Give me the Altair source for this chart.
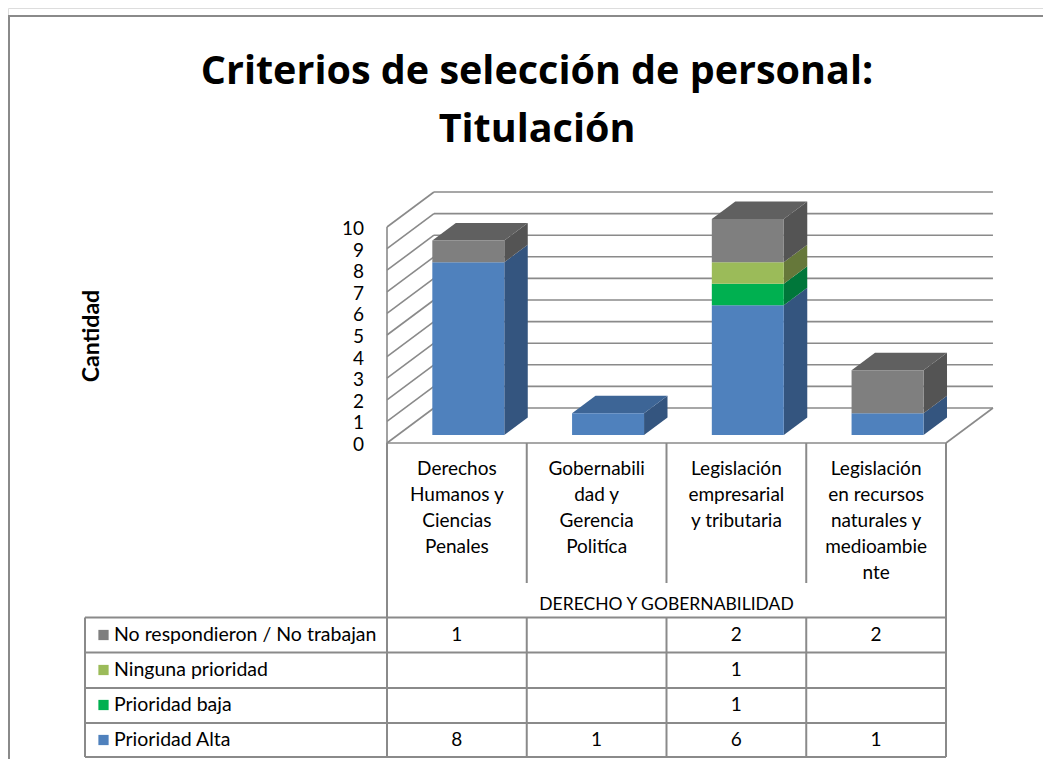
import altair as alt
import pandas as pd

# ---------------- data ----------------
categories = [
    "Derechos Humanos y Ciencias Penales",
    "Gobernabilidad y Gerencia Politíca",
    "Legislación empresarial y tributaria",
    "Legislación en recursos naturales y medioambiente",
]
category_lines = [
    ["Derechos", "Humanos y", "Ciencias", "Penales"],
    ["Gobernabili", "dad y", "Gerencia", "Politíca"],
    ["Legislación", "empresarial", "y tributaria"],
    ["Legislación", "en recursos", "naturales y", "medioambie", "nte"],
]
series = ["Prioridad Alta", "Prioridad baja", "Ninguna prioridad", "No respondieron / No trabajan"]
prioridad_alta = [8, 1, 6, 1]
prioridad_baja = [0, 0, 1, 0]
ninguna_prioridad = [0, 0, 1, 0]
no_respondieron = [1, 0, 2, 2]
values_by_series = [prioridad_alta, prioridad_baja, ninguna_prioridad, no_respondieron]
table_row_order = ["No respondieron / No trabajan", "Ninguna prioridad", "Prioridad baja", "Prioridad Alta"]
group_label = "DERECHO Y GOBERNABILIDAD"
y_ticks = list(range(0, 11))
title_lines = ["Criterios de selección de personal:", "Titulación"]
y_title = "Cantidad"

# ---------------- styles ----------------
FONT = "Lato"
TITLE_FONT = "Open Sans"
front_col = {"Prioridad Alta": "#4F81BD", "Prioridad baja": "#00B050",
             "Ninguna prioridad": "#9BBB59", "No respondieron / No trabajan": "#7F7F7F"}
side_col = {"Prioridad Alta": "#34557F", "Prioridad baja": "#00773A",
            "Ninguna prioridad": "#66783A", "No respondieron / No trabajan": "#545454"}
top_col = {"Prioridad Alta": "#3D6596", "Prioridad baja": "#008A43",
           "Ninguna prioridad": "#7A9345", "No respondieron / No trabajan": "#606060"}
GRID = "#8A8A8A"

# oblique projection constants (fractions of the category / value units)
DXW, DYW = 0.336, 1.62            # full wall depth
DXF, DYF = 0.23 * DXW, 0.23 * DYW  # bar front depth
DXB, DYB = 0.73 * DXW, 0.73 * DYW  # bar back depth
B0, B1 = 0.247, 0.762             # bar extent inside each category band

xs = alt.Scale(domain=[0, 4], range=[379, 938])
ys = alt.Scale(domain=[0, 10], range=[435, 219])

# ---------------- derived tables ----------------
front_rows, side_rows, top_rows = [], [], []
seg = 0
for i in range(len(categories)):
    base = 0
    stack = [(s, vals[i]) for s, vals in zip(series, values_by_series) if vals[i]]
    for k, (s, v) in enumerate(stack):
        top_v = base + v
        front_rows.append(dict(x=i + B0 + DXF, x2=i + B1 + DXF, y=base + DYF, y2=top_v + DYF,
                               fill=front_col[s]))
        side_rows.append(dict(seg=seg, x=i + B1 + DXF, lo=base + DYF, hi=top_v + DYF, fill=side_col[s]))
        side_rows.append(dict(seg=seg, x=i + B1 + DXB, lo=base + DYB, hi=top_v + DYB, fill=side_col[s]))
        if k == len(stack) - 1:
            top_rows.append(dict(seg=seg, y=top_v + DYF, xl=i + B0 + DXF, xr=i + B1 + DXF, fill=top_col[s]))
            top_rows.append(dict(seg=seg, y=top_v + DYB, xl=i + B0 + DXB, xr=i + B1 + DXB, fill=top_col[s]))
        seg += 1
        base = top_v

front_df = pd.DataFrame(front_rows)
side_df = pd.DataFrame(side_rows)
top_df = pd.DataFrame(top_rows)

grid_rows = []
for v in y_ticks:
    grid_rows.append(dict(x=DXW, x2=4 + DXW, y=v + DYW, y2=v + DYW))
    grid_rows.append(dict(x=0, x2=DXW, y=v, y2=v + DYW))
grid_rows.append(dict(x=0, x2=0, y=0, y2=10))
grid_rows.append(dict(x=0, x2=4, y=0, y2=0))
grid_rows.append(dict(x=4, x2=4 + DXW, y=0, y2=DYW))
grid_df = pd.DataFrame(grid_rows)

tick_df = pd.DataFrame({"v": y_ticks, "t": [str(v) for v in y_ticks], "zero": [0] * len(y_ticks)})

# ---------------- 3D bar layers ----------------
grid = alt.Chart(grid_df).mark_rule(color=GRID, strokeWidth=1.6).encode(
    x=alt.X("x:Q", scale=xs, axis=None), x2="x2:Q",
    y=alt.Y("y:Q", scale=ys, axis=None), y2="y2:Q")

front = alt.Chart(front_df).mark_rect().encode(
    x=alt.X("x:Q", scale=xs, axis=None), x2="x2:Q",
    y=alt.Y("y:Q", scale=ys, axis=None), y2="y2:Q",
    fill=alt.Fill("fill:N", scale=None))

side = alt.Chart(side_df).mark_area(orient="vertical", interpolate="linear").encode(
    x=alt.X("x:Q", scale=xs, axis=None),
    y=alt.Y("lo:Q", scale=ys, axis=None), y2="hi:Q",
    detail="seg:N",
    fill=alt.Fill("fill:N", scale=None))

top = alt.Chart(top_df).mark_area(orient="horizontal", interpolate="linear").encode(
    y=alt.Y("y:Q", scale=ys, axis=None),
    x=alt.X("xl:Q", scale=xs, axis=None), x2="xr:Q",
    detail="seg:N",
    fill=alt.Fill("fill:N", scale=None))

ticks = alt.Chart(tick_df).mark_text(font=FONT, fontSize=19, align="right", baseline="middle",
                                     dx=-23, dy=2, color="#000000").encode(
    x=alt.X("zero:Q", scale=xs, axis=None),
    y=alt.Y("v:Q", scale=ys, axis=None), text="t:N")

# ---------------- data table ----------------
ROW_LINES = [609.5, 644.5, 680, 715, 749]   # row boundary pixels
rows_scale = alt.Scale(type="point", domain=table_row_order, range=[627, 732], padding=0)

cells = []
for s, vals in zip(series, values_by_series):
    for i, v in enumerate(vals):
        cells.append(dict(series=s, xc=i + 0.5, t=str(v) if v else ""))
cell_df = pd.DataFrame(cells)

cell_text = alt.Chart(cell_df).mark_text(font=FONT, fontSize=19, baseline="middle", color="#000000").encode(
    x=alt.X("xc:Q", scale=xs, axis=None),
    y=alt.Y("series:N", scale=rows_scale, axis=None), text="t:N")

legend_df = pd.DataFrame({"series": series, "fill": [front_col[s] for s in series]})
legend_sq = alt.Chart(legend_df).mark_square(size=105, opacity=1).encode(
    x=alt.value(95.5),
    y=alt.Y("series:N", scale=rows_scale, axis=None),
    fill=alt.Fill("fill:N", scale=None))
legend_txt = alt.Chart(legend_df).mark_text(font=FONT, fontSize=19.5, align="left", baseline="middle",
                                             color="#000000").encode(
    x=alt.value(106),
    y=alt.Y("series:N", scale=rows_scale, axis=None), text="series:N")

cat_df = pd.DataFrame({"xc": [i + 0.5 for i in range(len(categories))],
                       "t": ["\n".join(l) for l in category_lines]})
cat_txt = alt.Chart(cat_df).mark_text(font=FONT, fontSize=19, baseline="top", lineBreak="\n",
                                      lineHeight=26, color="#000000").encode(
    x=alt.X("xc:Q", scale=xs, axis=None), y=alt.value(452), text="t:N")

grp_txt = alt.Chart(pd.DataFrame({"xc": [2.0], "t": [group_label]})).mark_text(
    font=FONT, fontSize=17.5, baseline="middle", color="#000000").encode(
    x=alt.X("xc:Q", scale=xs, axis=None), y=alt.value(597), text="t:N")

# table lines (layout, pixel positions)
table_h = [alt.Chart(pd.DataFrame({"a": [0]})).mark_rule(color=GRID, strokeWidth=2).encode(
    x=alt.value(77), x2=alt.value(938), y=alt.value(yy)) for yy in ROW_LINES]
outer_v = alt.Chart(pd.DataFrame({"u": [0, 4]})).mark_rule(color=GRID, strokeWidth=2).encode(
    x=alt.X("u:Q", scale=xs, axis=None), y=alt.value(435), y2=alt.value(749))
inner_head_v = alt.Chart(pd.DataFrame({"u": [1, 2, 3]})).mark_rule(color=GRID, strokeWidth=2).encode(
    x=alt.X("u:Q", scale=xs, axis=None), y=alt.value(435), y2=alt.value(575))
inner_row_v = alt.Chart(pd.DataFrame({"u": [1, 2, 3]})).mark_rule(color=GRID, strokeWidth=2).encode(
    x=alt.X("u:Q", scale=xs, axis=None), y=alt.value(609.5), y2=alt.value(749))
table_left = alt.Chart(pd.DataFrame({"a": [0]})).mark_rule(color=GRID, strokeWidth=2).encode(
    x=alt.value(77), y=alt.value(609.5), y2=alt.value(749))

# ---------------- titles & frame ----------------
title1 = alt.Chart(pd.DataFrame({"t": [title_lines[0]]})).mark_text(
    font=TITLE_FONT, fontSize=39.5, fontWeight="bold", baseline="alphabetic",
    color="#000000").encode(x=alt.value(529), y=alt.value(76), text="t:N")
title2 = alt.Chart(pd.DataFrame({"t": [title_lines[1]]})).mark_text(
    font=TITLE_FONT, fontSize=39.5, fontWeight="bold", baseline="alphabetic",
    color="#000000").encode(x=alt.value(529), y=alt.value(134), text="t:N")
ytitle = alt.Chart(pd.DataFrame({"t": [y_title]})).mark_text(
    font=FONT, fontSize=23, fontWeight="bold", angle=270, baseline="middle", color="#000000").encode(
    x=alt.value(84), y=alt.value(328), text="t:N")
frame = alt.Chart(pd.DataFrame({"a": [0]})).mark_rule(color=GRID, strokeWidth=2).encode(
    x=alt.value(0), x2=alt.value(1035), y=alt.value(8))
frame_l = alt.Chart(pd.DataFrame({"a": [0]})).mark_rule(color=GRID, strokeWidth=2).encode(
    x=alt.value(1), y=alt.value(8), y2=alt.value(751))

layers = [grid, side, top, front, ticks, *table_h, outer_v, inner_head_v, inner_row_v, table_left,
          cat_txt, grp_txt, title1, title2, ytitle, frame, frame_l, cell_text, legend_sq, legend_txt]

chart = alt.layer(*layers).resolve_scale(
    y="independent"
).properties(
    width=1035, height=751, padding=0, autosize=alt.AutoSizeParams(type="none")
).configure_view(strokeWidth=0).configure(background="#FFFFFF")

chart.save("out.html", embed_options={"renderer": "svg", "actions": False})
